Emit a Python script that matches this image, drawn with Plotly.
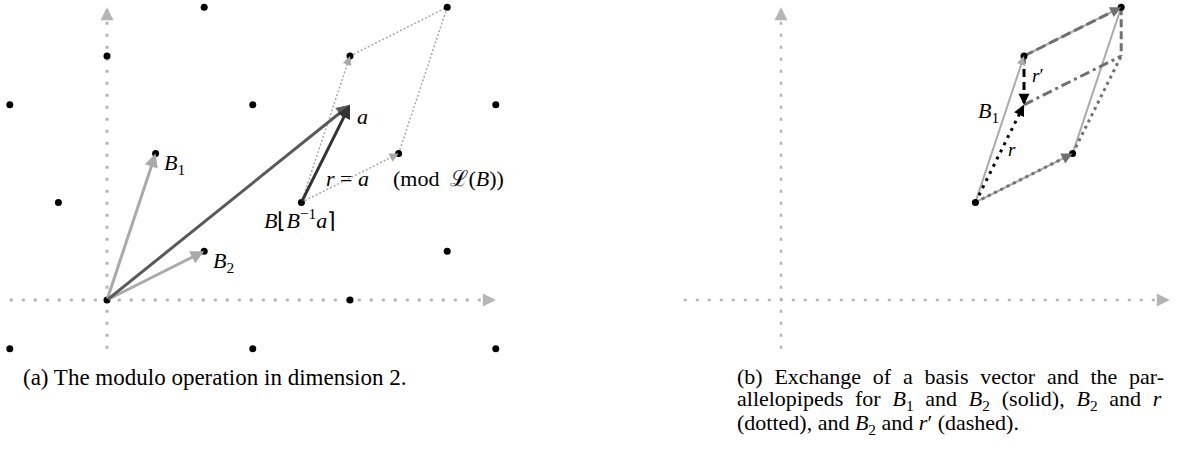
import plotly.graph_objects as go
import math

# ---------------- data ----------------
# panel (a): lattice generated by B1, B2
lattice_x = [-2, 3, 8, 0, 5, 2, 7, -1, 4, 1, 6, -2, 3, 8, 0, 5, 2, 7]
lattice_y = [-1, -1, -1, 0, 0, 1, 1, 2, 2, 3, 3, 4, 4, 4, 5, 5, 6, 6]
B1 = [1, 3]
B2 = [2, 1]
a_vec = [5, 4]
B_round = [4, 2]          # B⌊B^{-1}a⌉
axis_x_range = [-2, 8]
axis_y_range = [-1, 6]

# panel (b)
b_points_x = [4, 6, 7, 5]
b_points_y = [2, 3, 6, 5]
r_vec = [1, 2]
r_prime = [0, -1]

SP = "&nbsp;\u2009\u200a"
caption_a = "(a) The modulo operation in dimension 2."
caption_b = [
    SP.join(["(b)", "Exchange", "of", "a", "basis", "vector", "and", "the", "par-"]),
    SP.join(["allelopipeds", "for", "<i>B</i><sub>1</sub>", "and", "<i>B</i><sub>2</sub>",
             "(solid),", "<i>B</i><sub>2</sub>", "and", "<i>r</i>"]),
    "(dotted), and <i>B</i><sub>2</sub> and <i>r</i>′ (dashed).",
]

# ---------------- helpers ----------------
FONT = "Liberation Serif"
W, H = 1181, 454
SX, SY = 48.6, 48.8
fig = go.Figure()
annots = []


def add(p, v):
    return [p[0] + v[0], p[1] + v[1]]


def seg(xr, p, q, color, width, dash="solid"):
    fig.add_trace(go.Scatter(x=[p[0], q[0]], y=[p[1], q[1]], mode="lines",
                             xaxis=xr, yaxis="y", hoverinfo="skip", showlegend=False,
                             line=dict(color=color, width=width, dash=dash)))


def head(xr, p, q, color, width=2, size=1.0, full=False):
    dx, dy = q[0] - p[0], q[1] - p[1]
    L = math.hypot(dx, dy)
    if full:
        ax, ay = p
    else:
        s = 0.22 / L
        ax, ay = q[0] - dx * s, q[1] - dy * s
    annots.append(dict(x=q[0], y=q[1], ax=ax, ay=ay, xref=xr, yref="y",
                       axref=xr, ayref="y", text="", showarrow=True,
                       arrowhead=2, arrowsize=size, arrowwidth=width,
                       arrowcolor=color))


def label(xr, x, y, txt, size=22, xanchor="center"):
    annots.append(dict(x=x, y=y, xref=xr, yref="y", text=txt, showarrow=False,
                       xanchor=xanchor, yanchor="middle",
                       font=dict(family=FONT, size=size, color="black")))


AX = "#b5b5b5"
# ---------------- panel (a) ----------------
O = [0, 0]
seg("x", [axis_x_range[0], 0], [axis_x_range[1], 0], AX, 3, "3px,9px")
seg("x", [0, axis_y_range[0]], [0, axis_y_range[1]], AX, 3, "3px,9px")
head("x", [axis_x_range[0], 0], [axis_x_range[1], 0], AX, 2, 1.3)
head("x", [0, axis_y_range[0]], [0, axis_y_range[1]], AX, 2, 1.3)

P1 = add(B_round, B1)
P2 = add(B_round, B2)
P3 = add(P1, B2)
PG = "#aaaaaa"
seg("x", B_round, P1, PG, 1.5, "2px,2px")
seg("x", B_round, P2, PG, 1.5, "2px,2px")
seg("x", P1, P3, PG, 1.5, "2px,2px")
seg("x", P2, P3, PG, 1.5, "2px,2px")
head("x", B_round, P1, PG, 1.5, 1.2)
head("x", B_round, P2, PG, 1.5, 1.2)

head("x", O, B1, "#aaaaaa", 3, 0.9, full=True)
head("x", O, B2, "#aaaaaa", 3, 0.9, full=True)
head("x", O, a_vec, "#595959", 3, 0.9, full=True)
head("x", B_round, a_vec, "#333333", 3, 0.9, full=True)

fig.add_trace(go.Scatter(x=lattice_x, y=lattice_y, mode="markers", xaxis="x", yaxis="y",
                         marker=dict(color="black", size=7), hoverinfo="skip", showlegend=False))

label("x", 1.13, 2.78, "<i>B</i><sub>1</sub>", xanchor="left")
label("x", 2.14, 0.77, "<i>B</i><sub>2</sub>", xanchor="left")
label("x", 5.1, 3.77, "<i>a</i>", xanchor="left")
label("x", 4.47, 2.5, "<i>r</i> = <i>a</i>", xanchor="left")
label("x", 5.85, 2.5, "(mod&nbsp; ℒ(<i>B</i>))", xanchor="left")
label("x", 3.97, 1.67, "<i>B</i>⌊<i>B</i><sup>−1</sup><i>a</i>⌉")

# ---------------- panel (b) ----------------
seg("x2", [axis_x_range[0], 0], [axis_x_range[1], 0], AX, 2.5, "3px,9px")
seg("x2", [0, axis_y_range[0]], [0, axis_y_range[1]], AX, 2.5, "3px,9px")
head("x2", [axis_x_range[0], 0], [axis_x_range[1], 0], AX, 2, 1.3)
head("x2", [0, axis_y_range[0]], [0, axis_y_range[1]], AX, 2, 1.3)

Q0 = [b_points_x[0], b_points_y[0]]
Q1 = add(Q0, B1)             # (5,5)
Q2 = add(Q0, B2)             # (6,3)
Q3 = add(Q1, B2)             # (7,6)
R = add(Q0, r_vec)           # (5,4)
R2 = add(R, B2)              # (7,5)
LG = "#aaaaaa"
DG = "#707070"
# solid parallelogram B1, B2
seg("x2", Q0, Q1, LG, 2)
seg("x2", Q0, Q2, LG, 2)
seg("x2", Q2, Q3, LG, 2)
seg("x2", Q1, Q3, LG, 2)
# dotted parallelogram B2, r
seg("x2", Q0, Q2, DG, 3, "3px,4px")
seg("x2", Q2, R2, DG, 3, "3px,4px")
seg("x2", Q0, R, "black", 3, "3px,5px")
# dashed parallelogram B2, r'
seg("x2", Q1, Q3, DG, 3, "10px,4px")
seg("x2", Q3, add(Q3, r_prime), DG, 3, "8px,4px")
seg("x2", R, R2, DG, 3, "10px,4px,3px,4px")
seg("x2", Q1, add(Q1, r_prime), "black", 3, "8px,5px")

head("x2", Q0, Q1, LG, 1.5, 1.2)
head("x2", Q0, Q2, DG, 2, 1.1)
head("x2", Q1, Q3, DG, 2, 1.1)
head("x2", Q0, R, "black", 2, 1.1)
head("x2", Q1, add(Q1, r_prime), "black", 2, 1.1)

fig.add_trace(go.Scatter(x=b_points_x, y=b_points_y, mode="markers", xaxis="x2", yaxis="y",
                         marker=dict(color="black", size=7), hoverinfo="skip", showlegend=False))

label("x2", 4.26, 3.85, "<i>B</i><sub>1</sub>")
label("x2", 4.76, 3.08, "<i>r</i>", size=19)
label("x2", 5.28, 4.6, "<i>r</i>′", size=19)

# ---------------- captions ----------------
annots.append(dict(x=21 / W, y=1 - 377 / H, xref="paper", yref="paper", text=caption_a,
                   showarrow=False, xanchor="left", yanchor="middle",
                   font=dict(family=FONT, size=23, color="black")))
for i, (line, ypx) in enumerate(zip(caption_b, [376, 400, 424])):
    annots.append(dict(x=735 / W, y=1 - ypx / H, xref="paper", yref="paper", text=line,
                       showarrow=False, xanchor="left", yanchor="middle",
                       font=dict(family=FONT, size=22, color="black")))

# ---------------- layout ----------------
ox_a, ox_b, oy = 107, 781, 300
da = [0, 580]
db = [610, W]
fig.update_layout(
    width=W, height=H, margin=dict(l=0, r=0, t=0, b=0),
    paper_bgcolor="white", plot_bgcolor="white",
    xaxis=dict(domain=[da[0] / W, da[1] / W], range=[(da[0] - ox_a) / SX, (da[1] - ox_a) / SX],
               visible=False, anchor="y"),
    xaxis2=dict(domain=[db[0] / W, db[1] / W], range=[(db[0] - ox_b) / SX, (db[1] - ox_b) / SX],
                visible=False, anchor="y"),
    yaxis=dict(domain=[0, 1], range=[(oy - H) / SY, oy / SY], visible=False),
    annotations=annots,
)

fig.write_html("out.html", config={"displayModeBar": False},
               post_script="document.body.style.margin='0';document.body.style.overflow='hidden';")
